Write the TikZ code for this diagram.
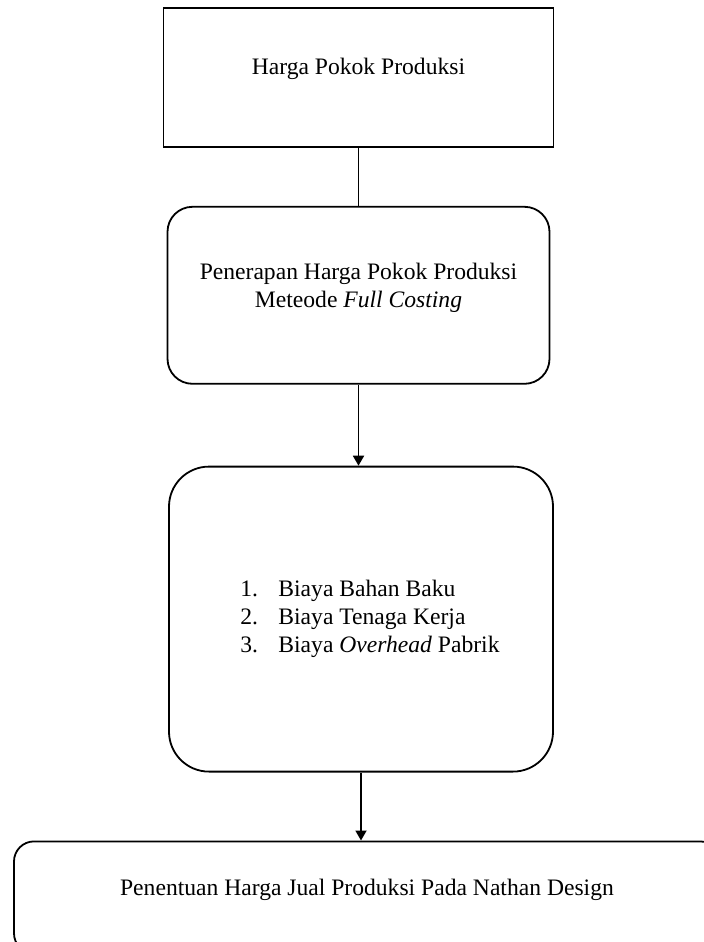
\documentclass[tikz,border=0pt]{standalone}
\usepackage{fontspec}
\setmainfont{Liberation Serif}
\usetikzlibrary{positioning, arrows.meta}
\tikzstyle{block} = [rectangle, draw, fill=white, text centered, line width=0.9pt, font=\fontsize{11.8}{14}\selectfont]
\tikzstyle{line}  = [line width=0.9pt]
\tikzstyle{arrow} = [-{Triangle[length=5pt,width=5.5pt]}, line width=0.9pt]
\newcommand{\nomor}[1]{\hspace*{9pt}\makebox[19pt][l]{#1}}

\begin{document}
\begin{tikzpicture}[x=0.5pt, y=-0.5pt]
    % batas gambar
    \useasboundingbox (0,0) rectangle (704,942);
    \clip (0,0) rectangle (704,942);

    % Harga Pokok Produksi
    \node [block, minimum width=195pt, minimum height=69.5pt, text depth=11.3pt] (hpp) at (358.5,77.5) {Harga Pokok Produksi};

    % Penerapan metode full costing
    \node [block, rounded corners=12.5pt, align=center, minimum width=191pt, minimum height=88.5pt, text depth=9.6pt, below=29pt of hpp] (penerapan) {Penerapan Harga Pokok Produksi\\ Meteode \textit{Full Costing}};

    % Rincian biaya
    \node [block, rounded corners=20pt, align=left, minimum width=192pt, minimum height=152.5pt, below=40.5pt of penerapan, xshift=1.25pt] (biaya) {\nomor{1.}Biaya Bahan Baku\\ \nomor{2.}Biaya Tenaga Kerja\\ \nomor{3.}Biaya \textit{Overhead} Pabrik};

    % Penentuan harga jual
    \node [block, rounded corners=10pt, minimum width=353pt, minimum height=56pt, text depth=10pt, below=34pt of biaya, xshift=3pt] (penentuan) {Penentuan Harga Jual Produksi Pada Nathan Design};

    % garis penghubung
    \draw [line] (hpp) -- (penerapan);
    \draw [arrow] (penerapan.south) -- (penerapan.south |- biaya.north);
    \draw [arrow] (biaya.south) -- (biaya.south |- penentuan.north);
\end{tikzpicture}
\end{document}
